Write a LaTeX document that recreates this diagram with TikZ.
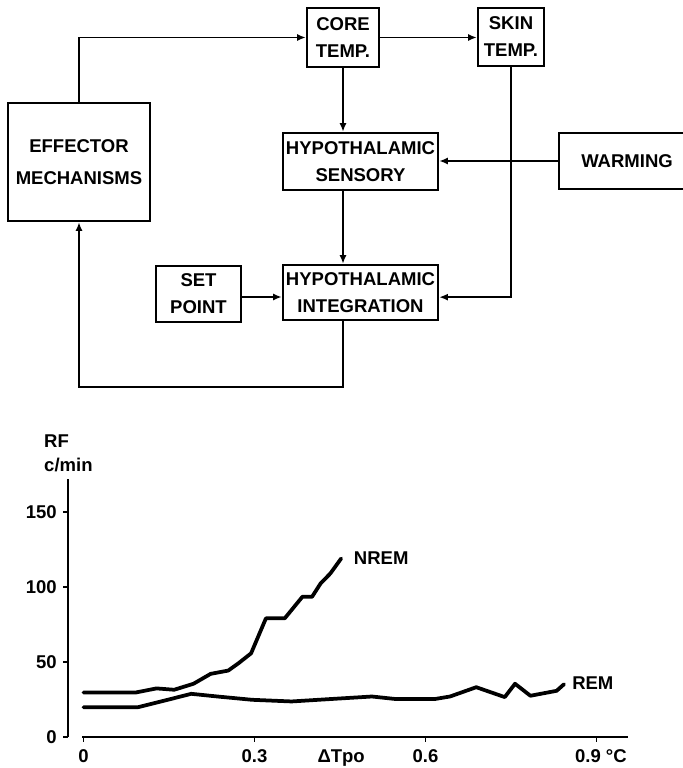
\documentclass[tikz,border=0pt]{standalone}
\usepackage{fontspec}
\setmainfont{Liberation Sans}
\usetikzlibrary{arrows.meta}
\newcommand{\lb}{\fontsize{15.8pt}{23pt}\selectfont\bfseries}
\tikzset{bx/.append style={draw, line width=1.9pt, align=center, inner sep=0pt, font=\lb}}
\tikzset{ar/.append style={line width=1.7pt, -{Latex[length=7.5pt,width=6pt]}}}
\tikzset{tx/.append style={inner sep=0pt, font=\lb}}
\tikzset{cv/.append style={line width=3.2pt, line join=round, line cap=round}}

\begin{document}
\begin{tikzpicture}[x=0.03cm,y=-0.03cm]
                \useasboundingbox (0,0) rectangle (682,768);
                % \SetUpBoxes
                \node[bx,minimum width=2.16cm,minimum height=1.77cm] (core) at (343,37.5) {CORE\\TEMP.};
                \node[bx,minimum width=1.98cm,minimum height=1.74cm] (skin) at (511,37) {SKIN\\TEMP.};
                \node[bx,minimum width=4.26cm,minimum height=3.54cm] (eff) at (79,162) {EFFECTOR\\[4pt]MECHANISMS};
                \node[bx,minimum width=4.65cm,minimum height=1.71cm] (sens) at (360.5,161.5) {HYPOTHALAMIC\\SENSORY};
                \node[bx,minimum width=4.08cm,minimum height=1.68cm] (warm) at (627,161) {WARMING};
                \node[bx,minimum width=2.55cm,minimum height=1.68cm] (sp) at (198.5,294) {SET\\POINT};
                \node[bx,minimum width=4.65cm,minimum height=1.65cm] (integ) at (360.5,292.5) {HYPOTHALAMIC\\INTEGRATION};
                \coordinate (lp) at (79,387);
                \draw[ar] (eff.north) |- (core.west);
                \draw[ar] (core.east) -- (core.east -| skin.west);
                \draw[ar] (core.south) -- (core.south |- sens.north);
                \draw[ar] (sens.south -| core.south) -- (integ.north -| core.south);
                \draw[ar] (warm.west) -- (warm.west -| sens.east);
                \draw[ar] (skin.south) |- ([yshift=-0.14cm]integ.east);
                \draw[ar] ([yshift=-0.09cm]sp.east) -- ([yshift=-0.09cm]sp.east -| integ.west);
                \draw[ar] (integ.south -| core.south) |- (lp) -- (eff.south);
                % RF plot
                \node[tx,anchor=base west] (rf) at (44,447) {RF};
                \node[tx,anchor=base west] (cmin) at (44,471) {c/min};
                \begin{scope}[shift={(83.5,737)},x=17.1cm,y=0.045cm]
                \draw[line width=1.4pt] (-0.0272,0) -- (-0.0272,172);
                \draw[line width=1.4pt] (-0.0026,0) -- (0.955,0);
                \foreach \v in {0,50,100,150}
                    {\draw[line width=1.2pt] (-0.0272,\v) -- (-0.036,\v);
                     \node[tx,anchor=east] (y\v) at (-0.0465,\v) {\v};}
                \foreach \t in {0,0.3,0.6,0.9}
                    \draw[line width=1.2pt] (\t,0) -- (\t,-3);
                \node[tx,anchor=base] (x0) at (0,-16.8) {0};
                \node[tx,anchor=base] (x3) at (0.3,-16.8) {0.3};
                \node[tx,anchor=base] (dt) at (0.452,-16.8) {ΔTpo};
                \node[tx,anchor=base] (x6) at (0.6,-16.8) {0.6};
                \node[tx,anchor=base west] (x9) at (0.862,-16.8) {0.9 °C};
                \draw[cv] plot coordinates {(0,29.7) (0.092,29.7) (0.128,32.4) (0.159,31.5) (0.193,35.5) (0.223,42.1) (0.254,44.3) (0.272,49.2) (0.294,55.8) (0.320,79.1) (0.353,79.1) (0.384,93.5) (0.401,93.5) (0.416,102.4) (0.433,109.0) (0.452,119.0)};
                \draw[cv] plot coordinates {(0,19.9) (0.096,19.9) (0.136,23.7) (0.159,25.9) (0.189,28.8) (0.235,27.0) (0.296,24.8) (0.365,23.7) (0.433,25.3) (0.506,27.0) (0.548,25.3) (0.616,25.3) (0.643,27.0) (0.689,33.2) (0.739,26.6) (0.757,35.5) (0.784,27.5) (0.830,30.8) (0.843,35.2)};
                \node[tx,anchor=west] (nrem) at (0.474,119.3) {NREM};
                \node[tx,anchor=west] (rem) at (0.857,36) {REM};
                \end{scope}
            \end{tikzpicture}
\end{document}
